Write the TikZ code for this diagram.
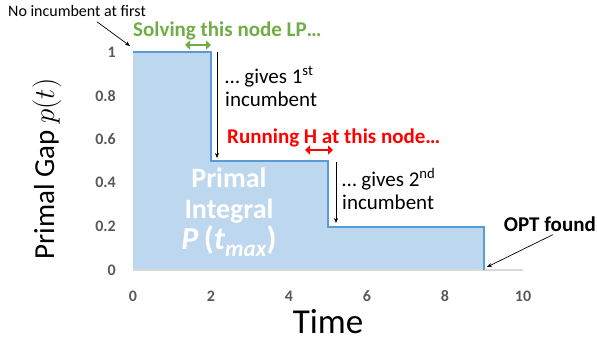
\documentclass[tikz,border=0pt]{standalone}
\usepackage{fix-cm}
\usepackage{amsmath,amssymb}
\usepackage{fontspec}
\setmainfont{Carlito}
\usetikzlibrary{arrows.meta}
\definecolor{areablue}{HTML}{BDD7EE}
\definecolor{lineblue}{HTML}{5B9BD5}
\definecolor{axisgrey}{HTML}{D9D9D9}
\definecolor{tickgrey}{HTML}{595959}
\definecolor{lpgreen}{HTML}{70AD47}
\definecolor{heurred}{HTML}{FF0000}
\tikzset{ticklabel/.style = {font=\fontsize{16}{16}\selectfont\bfseries, text=tickgrey, inner sep=0pt}}
\tikzset{note/.style = {font=\fontsize{21}{23}\selectfont, align=left, inner sep=0pt}}
\tikzset{callout/.style = {font=\fontsize{21}{21}\selectfont\bfseries, inner sep=0pt}}
\tikzset{pointer/.style = {-{Stealth[length=5pt,width=4pt]}, line width=0.7pt}}
\tikzset{span/.style = {{Triangle[length=5pt,width=9pt]}-{Triangle[length=5pt,width=9pt]}, line width=2.5pt}}

\begin{document}
\begin{tikzpicture}[x=1pt,y=-1pt]
      \useasboundingbox (0,0) rectangle (597,343);
      % area under p(t)
      \fill[areablue] (133,270) -- (133,52) -- (211,52) -- (211,161) -- (328,161) -- (328,227) -- (484,227) -- (484,270) -- cycle;
      \draw[axisgrey, line width=1.2pt] (133,270) -- (523,270);
      \draw[lineblue, line width=2pt] (133,52) -- (211,52) -- (211,161) -- (328,161) -- (328,227) -- (484,227) -- (484,270);
      % axes
      \foreach \t in {0,2,4,6,8,10}
        \node[ticklabel] at (133+39*\t,296) {\t};
      \foreach \p/\lbl in {0/0,0.2/0.2,0.4/0.4,0.6/0.6,0.8/0.8,1/1}
        \node[ticklabel, anchor=east] at (116,270-218*\p) {\lbl};
      \node[rotate=90, font=\fontsize{29}{29}\selectfont] (gap) at (47,169) {Primal Gap $p(t)$};
      \node[font=\fontsize{35}{35}\selectfont] (time) at (328,322) {Time};
      \node[text=white, font=\fontsize{28}{31}\selectfont\bfseries, align=center] (pint) at (229,212) {Primal\\Integral\\{\fontsize{32}{32}\selectfont\textit{P}\,(\textit{t}\raisebox{-0.22em}{\fontsize{23}{23}\selectfont\textit{max}})}};
      % annotations
      \node[font=\fontsize{16}{16}\selectfont, anchor=west, inner sep=0pt] (nofirst) at (8,11) {No incumbent at first};
      \coordinate (corner) at (130,46);
      \draw[pointer] ([xshift=20pt,yshift=-5pt]nofirst.south) -- (corner);
      \node[callout, text=lpgreen, anchor=west] (lp) at (133,31) {Solving this node LP…};
      \coordinate (lpfrom) at (185,45);
      \coordinate (lpto) at (211,45);
      \draw[span, lpgreen] (lpfrom) -- (lpto);
      \coordinate (inc1a) at (217,52);
      \coordinate (inc1b) at (217,158);
      \draw[pointer] (inc1a) -- (inc1b);
      \node[note, anchor=north west] (inc1) at (225,66) {… gives 1\textsuperscript{st}\\incumbent};
      \node[callout, text=heurred, anchor=west] (heur) at (227,138) {Running H at this node…};
      \coordinate (hfrom) at (305,150);
      \coordinate (hto) at (333,150);
      \draw[span, heurred] (hfrom) -- (hto);
      \coordinate (inc2a) at (336,162);
      \coordinate (inc2b) at (336,223);
      \draw[pointer] (inc2a) -- (inc2b);
      \node[note, anchor=north west] (inc2) at (342,168) {… gives 2\textsuperscript{nd}\\incumbent};
      \node[callout, anchor=east] (opt) at (596,224) {OPT found};
      \coordinate (optend) at (487,267);
      \draw[pointer] ([xshift=3pt,yshift=-3pt]opt.south) -- (optend);
    \end{tikzpicture}
\end{document}
